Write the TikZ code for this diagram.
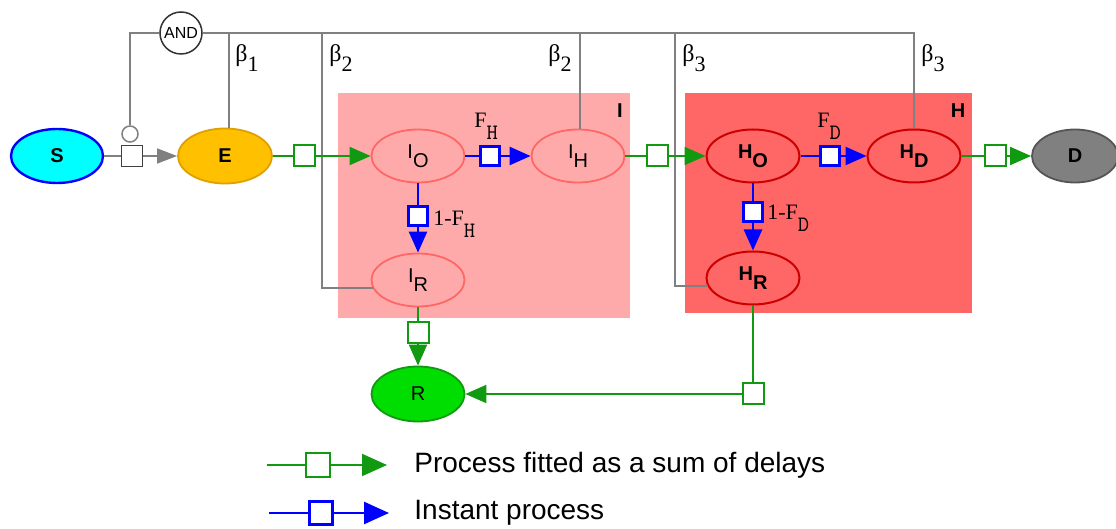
\documentclass[tikz,border=0pt]{standalone}
\usepackage{fontspec}
\setmainfont{Liberation Sans}
\newfontfamily\greekfont{Liberation Serif}
\usetikzlibrary{arrows.meta, positioning, shapes.geometric}

\definecolor{susfill}{HTML}{00FFFF}
\definecolor{expfill}{HTML}{FFC000}
\definecolor{expline}{HTML}{E0A000}
\definecolor{infbox}{HTML}{FFAAAA}
\definecolor{infline}{HTML}{FF6666}
\definecolor{hospbox}{HTML}{FF6666}
\definecolor{hospline}{HTML}{CC0000}
\definecolor{deadfill}{HTML}{808080}
\definecolor{deadline}{HTML}{555555}
\definecolor{recfill}{HTML}{00DD00}
\definecolor{delaygreen}{HTML}{119911}
\definecolor{fastblue}{HTML}{0000FF}
\definecolor{linegray}{HTML}{808080}

\newcommand{\lowsub}[2]{#1\raisebox{-4.5pt}{#2}}
\newcommand{\betalab}[1]{{\greekfont\fontsize{12}{12}\selectfont β\raisebox{-5pt}{\fontsize{11}{11}\selectfont #1}}}
\newcommand{\splitlab}[2]{{\greekfont\fontsize{11}{11}\selectfont #1F\raisebox{-6pt}{\ttfamily\fontsize{11}{11}\selectfont #2}}}

\begin{document}
\begin{tikzpicture}[
    x=0.5pt, y=-0.5pt,
    >={Triangle[length=10.5pt, width=9pt]},
    every node/.style={font=\fontsize{10}{12}\selectfont},
    state/.style={ellipse, draw, line width=0.9pt, inner sep=0pt,
        minimum width=46.5pt, minimum height=26.5pt},
    sus/.style={fill=susfill, draw=fastblue, line width=1.2pt, minimum width=46pt, minimum height=27pt, font=\fontsize{10}{12}\bfseries},
    exp/.style={fill=expfill, draw=expline, minimum width=47pt, minimum height=27.5pt, font=\fontsize{10}{12}\bfseries},
    inf/.style={fill=infbox, draw=infline},
    hosp/.style={fill=hospbox, draw=hospline, line width=1pt, font=\fontsize{10}{12}\bfseries},
    dead/.style={fill=deadfill, draw=deadline, minimum width=43pt, font=\fontsize{10}{12}\bfseries},
    rec/.style={fill=recfill, draw=delaygreen, minimum width=46.5pt, minimum height=27.5pt},
    ctrl/.style={draw=linegray, line width=0.75pt},
    slow/.style={draw=delaygreen, line width=1pt},
    fast/.style={draw=fastblue, line width=1.3pt},
    gbox/.style={rectangle, draw=delaygreen, fill=white, line width=1pt, minimum size=10.5pt, inner sep=0pt},
    bbox/.style={rectangle, draw=fastblue, fill=white, line width=1.5pt, minimum size=9.5pt, inner sep=0pt},
    kbox/.style={rectangle, draw=black!75, fill=white, line width=0.7pt, minimum size=10.5pt, inner sep=0pt},
    boxlab/.style={font=\fontsize{10}{12}\bfseries},
    rate/.style={anchor=base west, inner sep=0pt},
]
    \useasboundingbox (0,0) rectangle (1116,529);

    % compartments
    \fill[infbox]  (338,93) rectangle (630,318);
    \fill[hospbox] (685,93) rectangle (972,313);
    \node[boxlab] (labI) at (620,111) {I};
    \node[boxlab] (labH) at (958,111) {H};

    % states
    \node[state, sus]  (S)  at (57,156)   {S};
    \node[state, exp]  (E)  at (225,156)  {E};
    \node[state, inf]  (IO) at (418,156)  {\lowsub{I}{O}};
    \node[state, inf]  (IH) at (578,156)  {\lowsub{I}{H}};
    \node[state, inf]  (IR) at (418,280)  {\lowsub{I}{R}};
    \node[state, hosp] (HO) at (753,156)  {\lowsub{H}{O}};
    \node[state, hosp] (HD) at (914,156)  {\lowsub{H}{D}};
    \node[state, hosp] (HR) at (753,278)  {\lowsub{H}{R}};
    \node[state, dead] (D)  at (1075,156) {D};
    \node[state, rec]  (R)  at (418,394)  {R};

    % delays
    \node[kbox] (sqSE)   at (132,156) {};
    \node[gbox] (sqEI)   at (304,156) {};
    \node[bbox] (sqIOIH) at (490,156) {};
    \node[bbox] (sqIOIR) at (418,216) {};
    \node[gbox] (sqIH)   at (657,156) {};
    \node[bbox] (sqHOHD) at (830,156) {};
    \node[bbox] (sqHOHR) at (753,212) {};
    \node[gbox] (sqHD)   at (995,156) {};
    \node[gbox] (sqIR)   at (418,333) {};
    \node[gbox] (sqHR)   at (753,394) {};

    % infection control
    \node[circle, draw=linegray, fill=white, line width=0.75pt, minimum size=8pt, inner sep=0pt] (inhib) at (130,134) {};
    \node[circle, draw=black!80, fill=white, line width=0.75pt, minimum size=21pt, inner sep=0pt,
        font=\fontsize{8}{8}\selectfont] (AND) at (181,33) {AND};
    \coordinate (b1)   at (229,33);
    \coordinate (b2a)  at (322,33);
    \coordinate (b2b)  at (580,33);
    \coordinate (b3a)  at (675,33);
    \coordinate (topR) at (914,33);

    \draw[ctrl] (inhib) |- (AND);
    \draw[ctrl] (AND) -- (topR) -- (HD);
    \draw[ctrl] (b1) -- (b1 |- E.north);
    \draw[ctrl] (b2a) |- (IR.190);
    \draw[ctrl] (b2b) -- (b2b |- IH.north);
    \draw[ctrl] (b3a) |- (HR.190);

    \node[rate] (beta1)  at (235,62) {\betalab{1}};
    \node[rate] (beta2a) at (329,62) {\betalab{2}};
    \node[rate] (beta2b) at (548,62) {\betalab{2}};
    \node[rate] (beta3a) at (682,62) {\betalab{3}};
    \node[rate] (beta3b) at (921,62) {\betalab{3}};

    \path
        (S)      edge [ctrl]       (sqSE)
        (sqSE)   edge [ctrl, -{Triangle[length=10pt, width=7.5pt]}, linegray] (E)
        (E)      edge [slow]       (sqEI)
        (sqEI)   edge [slow, ->]   (IO)
        (IO)     edge [fast]       (sqIOIH)
        (sqIOIH) edge [fast, ->]   (IH)
        (IO)     edge [fast]       (sqIOIR)
        (sqIOIR) edge [fast, ->]   (IR)
        (IH)     edge [slow]       (sqIH)
        (sqIH)   edge [slow, ->]   (HO)
        (HO)     edge [fast]       (sqHOHD)
        (sqHOHD) edge [fast, ->]   (HD)
        (HO)     edge [fast]       (sqHOHR)
        (sqHOHR) edge [fast, ->]   (HR)
        (HD)     edge [slow]       (sqHD)
        (sqHD)   edge [slow, ->]   (D)
        (IR)     edge [slow]       (sqIR)
        (sqIR)   edge [slow, ->]   (R)
        (HR)     edge [slow]       (sqHR)
        (sqHR)   edge [slow, ->]   (R)
    ;

    \node[rate] (fH)  at (474,128) {\splitlab{}{H}};
    \node[rate] (nfH) at (433,226) {\splitlab{1-}{H}};
    \node[rate] (fD)  at (817,128) {\splitlab{}{D}};
    \node[rate] (nfD) at (767,220) {\splitlab{1-}{D}};

    % legend
    \coordinate (lgA)    at (267,465);
    \coordinate (lgAend) at (387,465);
    \node[gbox, minimum size=12pt] (lgAbox) at (318,465) {};
    \coordinate (lgB)    at (269,513);
    \coordinate (lgBend) at (389,513);
    \node[bbox, minimum size=11.5pt] (lgBbox) at (321,513) {};
    \draw[slow] (lgA) -- (lgAbox);
    \draw[slow, -{Triangle[length=12.5pt, width=11pt]}] (lgAbox) -- (lgAend);
    \draw[fast] (lgB) -- (lgBbox);
    \draw[fast, -{Triangle[length=12.5pt, width=11pt]}] (lgBbox) -- (lgBend);
    \node[anchor=west, inner sep=0pt, font=\fontsize{14}{16}\selectfont] (lgAtext) at (414,465) {Process fitted as a sum of delays};
    \node[anchor=west, inner sep=0pt, font=\fontsize{14}{16}\selectfont] (lgBtext) at (414,513) {Instant process};
\end{tikzpicture}
\end{document}
